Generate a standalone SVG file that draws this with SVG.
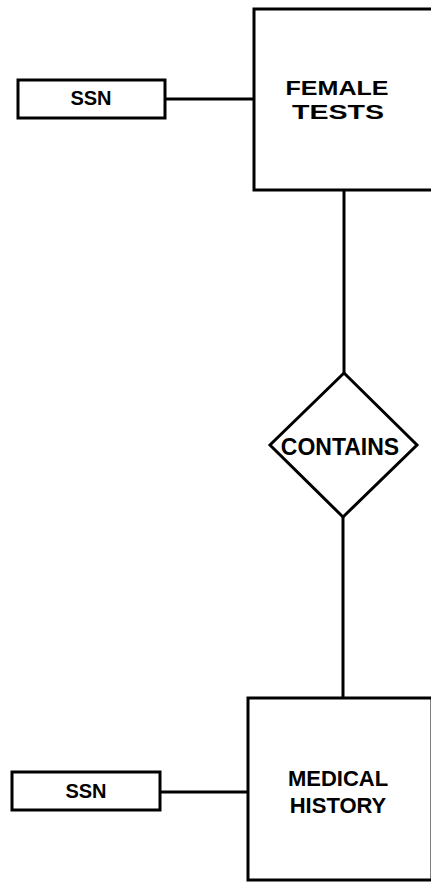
<svg xmlns="http://www.w3.org/2000/svg" width="431" height="882" viewBox="0 0 431 882">
<style>
.s{fill:#fff;stroke:#000;stroke-width:3}
.c{stroke:#000;stroke-width:3;fill:none}
.t{font-family:"Liberation Sans",Arial,sans-serif;font-weight:bold;fill:#000;text-anchor:middle}
</style>
<rect width="431" height="882" fill="#fff"/>
<g id="connectors">
<line class="c" x1="165" y1="99" x2="254" y2="99"/>
<line class="c" x1="344" y1="190" x2="344" y2="373"/>
<line class="c" x1="343" y1="517" x2="343" y2="698"/>
<line class="c" x1="160" y1="792" x2="248" y2="792"/>
</g>
<g id="female-tests">
<rect class="s" x="254" y="9" width="180" height="181"/>
<text class="t" x="337" y="95" font-size="21" textLength="103" lengthAdjust="spacingAndGlyphs">FEMALE</text>
<text class="t" x="338" y="119" font-size="21" textLength="92" lengthAdjust="spacingAndGlyphs">TESTS</text>
</g>
<g id="ssn-top">
<rect class="s" x="18" y="80" width="147" height="38"/>
<text class="t" x="91" y="105" font-size="20">SSN</text>
</g>
<g id="contains">
<polygon class="s" points="344,373 417,445 343,517 270,445"/>
<text class="t" x="340" y="455" font-size="23">CONTAINS</text>
</g>
<g id="medical-history">
<rect class="s" x="248" y="698" width="184" height="182"/>
<text class="t" x="338" y="786" font-size="22">MEDICAL</text>
<text class="t" x="338" y="813" font-size="22">HISTORY</text>
</g>
<g id="ssn-bottom">
<rect class="s" x="12" y="772" width="148" height="38"/>
<text class="t" x="86" y="798" font-size="20">SSN</text>
</g>
</svg>
